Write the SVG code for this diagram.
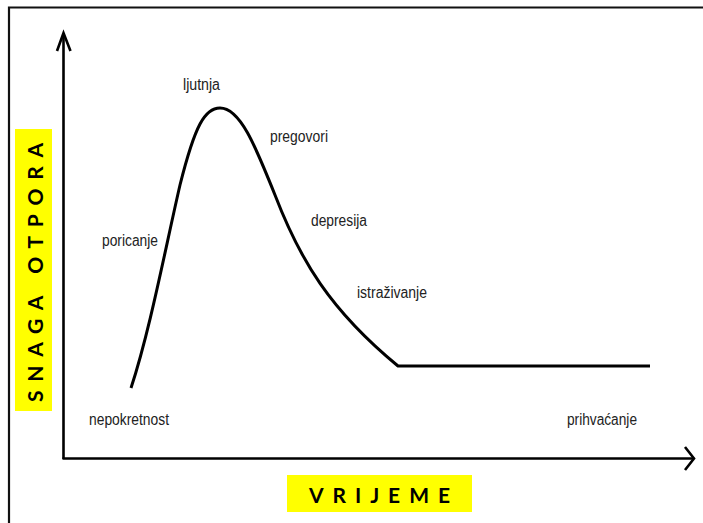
<svg xmlns="http://www.w3.org/2000/svg" width="703" height="523" viewBox="0 0 703 523">
<style>
.lbl{font-family:"Liberation Sans Narrow","Liberation Sans",Arial,sans-serif;font-size:16px;fill:#222}
.ax{fill:none;stroke:#000;stroke-width:2.6;stroke-linecap:butt}
.ttl{font-family:Lato,"Open Sans",sans-serif;font-weight:700;font-size:21px;fill:#000}
.hl{fill:#ffff00}
</style>
<rect width="703" height="523" fill="#fff"/>
<g id="frame"><path d="M9,523 V7.5 H703" fill="none" stroke="#111" stroke-width="2.2"/></g>
<g id="connectors">
<path class="ax" d="M63.5,459 V34"/>
<polyline class="ax" points="57,51 63.5,33 70.5,51" stroke-linejoin="miter"/>
<path class="ax" d="M62.5,458.5 H693"/>
<polyline class="ax" points="685,447 694,458.5 685,470" stroke-linejoin="miter"/>
<path id="curve" d="M131,388 C150,330 165,250 180,185 C195,125 205,108 220,108 C240,108 255,145 275,195 C300,260 330,310 398,366 L650,366" fill="none" stroke="#000" stroke-width="3" stroke-linejoin="round"/>
</g>
<g id="ljutnja"><text class="lbl" x="183" y="90" textLength="37" lengthAdjust="spacingAndGlyphs">ljutnja</text></g>
<g id="pregovori"><text class="lbl" x="270" y="142" textLength="58" lengthAdjust="spacingAndGlyphs">pregovori</text></g>
<g id="depresija"><text class="lbl" x="311" y="226" textLength="56" lengthAdjust="spacingAndGlyphs">depresija</text></g>
<g id="poricanje"><text class="lbl" x="102" y="246" textLength="56" lengthAdjust="spacingAndGlyphs">poricanje</text></g>
<g id="istrazivanje"><text class="lbl" x="357" y="298" textLength="70" lengthAdjust="spacingAndGlyphs">istraživanje</text></g>
<g id="nepokretnost"><text class="lbl" x="89" y="425" textLength="80" lengthAdjust="spacingAndGlyphs">nepokretnost</text></g>
<g id="prihvacanje"><text class="lbl" x="567" y="425" textLength="70" lengthAdjust="spacingAndGlyphs">prihvaćanje</text></g>
<g id="y-title">
<rect class="hl" x="15" y="129" width="37" height="282"/>
<text class="ttl" transform="translate(42.5,272.5) rotate(-90)" x="0" y="0" text-anchor="middle" textLength="259" lengthAdjust="spacing">SNAGA OTPORA</text>
</g>
<g id="x-title">
<rect class="hl" x="287" y="475" width="185" height="37"/>
<text class="ttl" x="379.5" y="503" text-anchor="middle" textLength="141" lengthAdjust="spacing">VRIJEME</text>
</g>
</svg>
